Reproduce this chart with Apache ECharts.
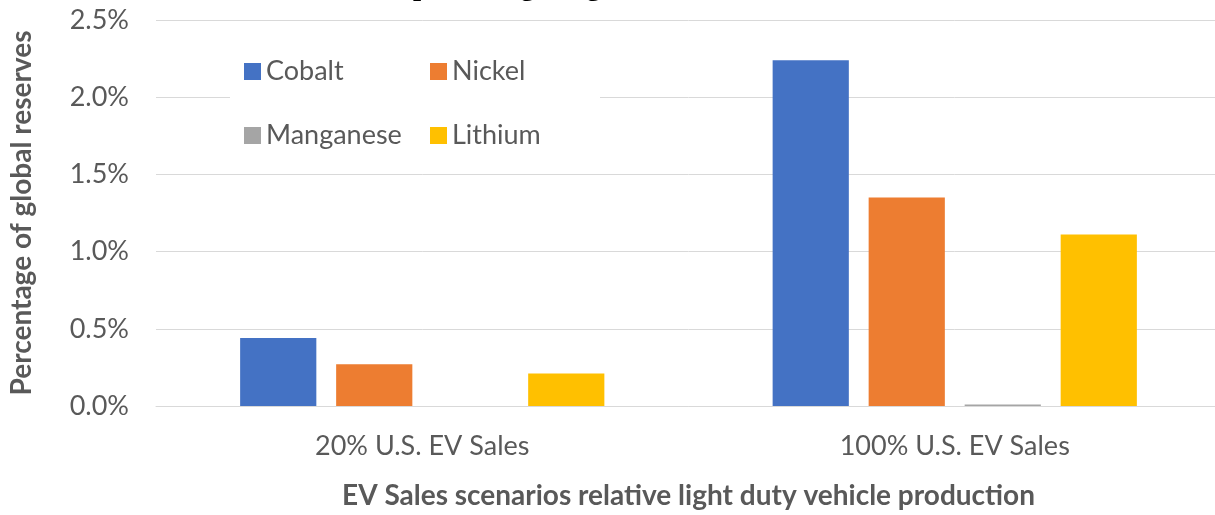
<!DOCTYPE html>
<html><head><meta charset="utf-8">
<script src="https://cdn.jsdelivr.net/npm/echarts@6/dist/echarts.min.js"></script>
<style>html,body{margin:0;padding:0;background:#fff;overflow:hidden}#c{width:1232px;height:515px}</style>
</head><body><div id="c"></div>
<script>
const categories = ['20% U.S. EV Sales', '100% U.S. EV Sales'];
const cobalt = [0.44, 2.24];
const nickel = [0.27, 1.35];
const manganese = [0, 0.01];
const lithium = [0.21, 1.11];
const yTicks = [0, 0.5, 1.0, 1.5, 2.0, 2.5];
const seriesNames = ['Cobalt', 'Nickel', 'Manganese', 'Lithium'];
const colors = ['#4472C4', '#ED7D31', '#A5A5A5', '#FFC000'];
const titleText = 'percentage of global reserves';
const yName = 'Percentage of global reserves';
const xName = 'EV Sales scenarios relative light duty vehicle production';

const FONT = 'Lato';
const chart = echarts.init(document.getElementById('c'));
const data = [cobalt, nickel, manganese, lithium];
const legendText = {color: '#595959', fontSize: 27, fontFamily: FONT, lineHeight: 27};
chart.setOption({
  animation: false,
  color: colors,
  graphic: [
    {type: 'rect', left: 230, top: 42, shape: {width: 370, height: 116}, style: {fill: '#fff'}, z: 1, silent: true},
    {type: 'text', x: 413, y: 2, style: {text: titleText, font: 'bold 29px "Liberation Serif"', fill: '#000', verticalAlign: 'bottom'}, z: 5}
  ],
  legend: [
    {data: ['Cobalt', 'Manganese'], orient: 'vertical', left: 244, top: 58, itemWidth: 17, itemHeight: 17, itemGap: 37, textStyle: legendText, icon: 'rect', padding: 0},
    {data: ['Nickel', 'Lithium'], orient: 'vertical', left: 430, top: 58, itemWidth: 17, itemHeight: 17, itemGap: 37, textStyle: legendText, icon: 'rect', padding: 0}
  ],
  grid: {left: 153, top: 20, width: 1068, bottom: 109, containLabel: false},
  xAxis: {
    type: 'category', data: categories,
    axisLine: {lineStyle: {color: '#D9D9D9', width: 1}}, axisTick: {show: false},
    axisLabel: {color: '#595959', fontSize: 27, fontFamily: FONT, margin: 27},
    name: xName, nameLocation: 'middle', nameGap: 76,
    nameTextStyle: {color: '#595959', fontSize: 28, fontWeight: 'bold', fontFamily: FONT}
  },
  yAxis: {
    type: 'value', min: yTicks[0], max: yTicks[yTicks.length - 1], interval: 0.5,
    axisLine: {show: false}, axisTick: {show: false},
    splitLine: {lineStyle: {color: '#D9D9D9', width: 1}},
    axisLabel: {color: '#595959', fontSize: 27, fontFamily: FONT, margin: 27, formatter: v => v.toFixed(1) + '%'},
    name: yName, nameLocation: 'middle', nameGap: 120,
    nameTextStyle: {color: '#595959', fontSize: 28, fontWeight: 'bold', fontFamily: FONT}
  },
  series: seriesNames.map((n, i) => ({
    name: n, type: 'bar', data: data[i], barGap: '26%', barCategoryGap: '31.6%',
    itemStyle: {color: colors[i]}
  }))
});
</script></body></html>
